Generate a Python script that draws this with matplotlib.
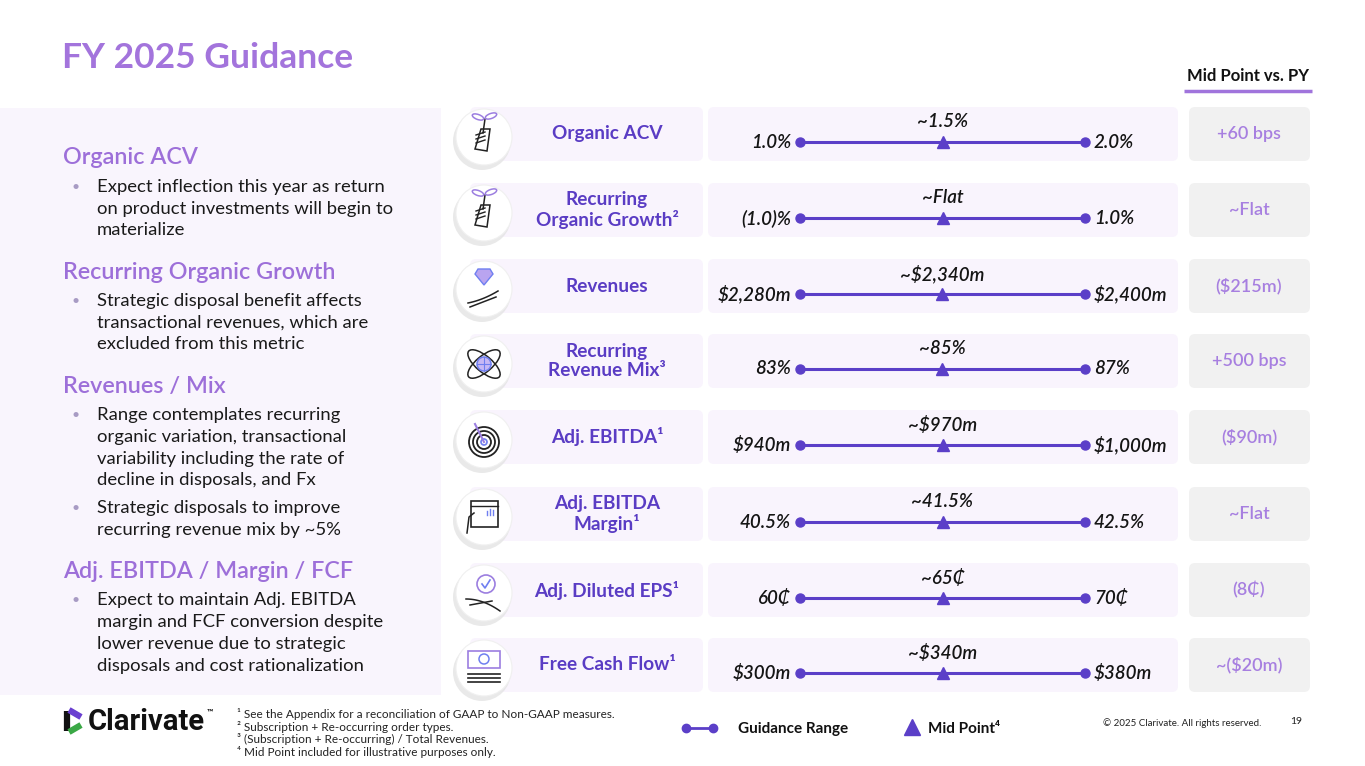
import numpy as np
import matplotlib.pyplot as plt
from matplotlib import patches

plt.rcParams['font.family'] = ['Lato', 'DejaVu Sans']

W, H = 1365, 766

# guidance data
metrics = ["Organic ACV", "Recurring\nOrganic Growth²", "Revenues", "Recurring\nRevenue Mix³",
           "Adj. EBITDA¹", "Adj. EBITDA\nMargin¹", "Adj. Diluted EPS¹", "Free Cash Flow¹"]
low_vals = [1.0, -1.0, 2280, 83, 940, 40.5, 60, 300]
high_vals = [2.0, 1.0, 2400, 87, 1000, 42.5, 70, 380]
mid_vals = [1.5, 0.0, 2340, 85, 970, 41.5, 65, 340]
low_labels = ["1.0%", "(1.0)%", "$2,280m", "83%", "$940m", "40.5%", "60₵", "$300m"]
high_labels = ["2.0%", "1.0%", "$2,400m", "87%", "$1,000m", "42.5%", "70₵", "$380m"]
mid_labels = ["~1.5%", "~Flat", "~$2,340m", "~85%", "~$970m", "~41.5%", "~65₵", "~$340m"]
vs_py = ["+60 bps", "~Flat", "($215m)", "+500 bps", "($90m)", "~Flat", "(8₵)", "~($20m)"]
icons = ["plant", "plant", "diamond", "atom", "target", "chart", "check", "cash"]

sections = [
    ("Organic ACV", [["Expect inflection this year as return",
                      "on product investments will begin to",
                      "materialize"]]),
    ("Recurring Organic Growth", [["Strategic disposal benefit affects",
                                   "transactional revenues, which are",
                                   "excluded from this metric"]]),
    ("Revenues / Mix", [["Range contemplates recurring",
                         "organic variation, transactional",
                         "variability including the rate of",
                         "decline in disposals, and Fx"],
                        ["Strategic disposals to improve",
                         "recurring revenue mix by ~5%"]]),
    ("Adj. EBITDA / Margin / FCF", [["Expect to maintain Adj. EBITDA",
                                     "margin and FCF conversion despite",
                                     "lower revenue due to strategic",
                                     "disposals and cost rationalization"]]),
]

footnotes = ["¹ See the Appendix for a reconciliation of GAAP to Non-GAAP measures.",
             "² Subscription + Re-occurring order types.",
             "³ (Subscription + Re-occurring) / Total Revenues.",
             "⁴ Mid Point included for illustrative purposes only."]

TITLE_C = "#a374dc"
HEAD_C = "#9d6fd9"
LABEL_C = "#5a3cc4"
LINE_C = "#5b3fc8"
PY_C = "#a77fe0"
BOX_C = "#f9f4fd"
GRAY_C = "#f1f1f1"
ICON_B = "#6f7ff0"


def frac(x0, y0, w, h):
    return [x0 / W, 1 - (y0 + h) / H, w / W, h / H]


def rbox(ax, x0, y0, w, h, color, r=6):
    ax.add_patch(patches.FancyBboxPatch((x0, y0), w, h,
                                        boxstyle=f"round,pad=0,rounding_size={r}",
                                        fc=color, ec="none", zorder=1))


def draw_icon(ax, kind, cx, cy):
    ax.add_patch(patches.Circle((cx - 2, cy + 4), 29, fc="#e4e4e4", ec="none", zorder=2, alpha=0.8))
    ax.add_patch(patches.Circle((cx, cy), 28, fc="white", ec="#f0f0f0", lw=0.8, zorder=3))
    k = dict(zorder=4)
    if kind == "plant":
        ax.plot([cx + 1, cx - 1], [cy - 18, cy - 4], color="#222", lw=1.1, **k)
        ax.add_patch(patches.Ellipse((cx - 6, cy - 20), 12, 5, angle=20, fc="none", ec="#9c7ee0", lw=1.1, **k))
        ax.add_patch(patches.Ellipse((cx + 7, cy - 21), 12, 5, angle=-20, fc="none", ec="#9c7ee0", lw=1.1, **k))
        ax.add_patch(patches.Polygon([[cx - 9, cy + 12], [cx - 3, cy - 8], [cx + 6, cy - 8],
                                      [cx + 3, cy + 14]], closed=True, fc="none", ec="#222", lw=1.1, **k))
        for d in (-2, 2, 6):
            ax.plot([cx - 8, cx + 1], [cy + d, cy + d - 3], color="#222", lw=1.0, **k)
    elif kind == "diamond":
        ax.add_patch(patches.Polygon([[cx - 6, cy - 20], [cx + 6, cy - 20], [cx + 9, cy - 15],
                                      [cx, cy - 4], [cx - 9, cy - 15]], closed=True,
                                     fc="#b9a4f0", ec=ICON_B, lw=1.0, **k))
        t = np.linspace(0, 1, 20)
        ax.plot(cx - 16 + 30 * t, cy + 14 - 12 * t + 6 * t * (1 - t), color="#222", lw=1.1, **k)
        ax.plot(cx - 14 + 26 * t, cy + 18 - 10 * t, color="#222", lw=1.1, **k)
    elif kind == "atom":
        ax.add_patch(patches.Ellipse((cx, cy), 40, 16, angle=40, fc="none", ec="#222", lw=1.1, **k))
        ax.add_patch(patches.Ellipse((cx, cy), 40, 16, angle=-40, fc="none", ec="#222", lw=1.1, **k))
        ax.add_patch(patches.Circle((cx, cy), 7, fc="#c7b8f5", ec=ICON_B, lw=1.1, **k))
        ax.plot([cx - 7, cx + 7], [cy, cy], color=ICON_B, lw=0.8, **k)
        ax.plot([cx, cx], [cy - 7, cy + 7], color=ICON_B, lw=0.8, **k)
    elif kind == "target":
        for r in (15, 11, 7):
            ax.add_patch(patches.Circle((cx, cy + 2), r, fc="none", ec="#222", lw=1.3, **k))
        ax.add_patch(patches.Circle((cx, cy + 2), 3, fc="none", ec=ICON_B, lw=1.2, **k))
        ax.plot([cx - 9, cx], [cy - 16, cy + 2], color="#9c7ee0", lw=1.5, **k)
    elif kind == "chart":
        ax.add_patch(patches.Rectangle((cx - 13, cy - 16), 27, 26, fc="none", ec="#222", lw=1.2, **k))
        ax.plot([cx - 13, cx + 14], [cy - 11, cy - 11], color="#222", lw=1.0, **k)
        for i, hb in enumerate((4, 6, 5)):
            ax.plot([cx + 3 + 3 * i, cx + 3 + 3 * i], [cy - 2, cy - 2 - hb], color=ICON_B, lw=1.0, **k)
        ax.plot([cx - 17, cx - 15, cx - 10], [cy + 16, cy, cy - 4], color="#222", lw=1.1, **k)
    elif kind == "check":
        ax.add_patch(patches.Circle((cx + 2, cy - 9), 9, fc="none", ec="#9c7ee0", lw=1.2, **k))
        ax.plot([cx - 2, cx + 1, cx + 6], [cy - 9, cy - 5, cy - 13], color=ICON_B, lw=1.2, **k)
        t = np.linspace(0, 1, 20)
        ax.plot(cx - 18 + 34 * t, cy + 6 + 12 * t ** 2, color="#222", lw=1.1, **k)
        ax.plot(cx - 14 + 22 * t, cy + 12 - 4 * t, color="#222", lw=1.1, **k)
    elif kind == "cash":
        ax.add_patch(patches.Rectangle((cx - 16, cy - 17), 32, 17, fc="none", ec="#9c7ee0", lw=1.2, **k))
        ax.add_patch(patches.Circle((cx, cy - 9), 5, fc="none", ec=ICON_B, lw=1.1, **k))
        for d in (6, 10, 14):
            ax.plot([cx - 16, cx + 16], [cy + d, cy + d], color="#222", lw=1.2, **k)


fig = plt.figure(figsize=(W / 100, H / 100), dpi=100)
ax = fig.add_axes([0, 0, 1, 1])
ax.set_xlim(0, W)
ax.set_ylim(H, 0)
ax.axis("off")

# title and column header
ax.text(62, 58, "FY 2025 Guidance", fontsize=25.5, fontweight="bold", color=TITLE_C, va="center")
ax.text(1248, 76, "Mid Point vs. PY", fontsize=12, fontweight="bold", color="#111", ha="center", va="center")
ax.plot([1184, 1312], [91, 91], color="#a074dc", lw=2.5, solid_capstyle="butt")

# left commentary panel
ax.add_patch(patches.Rectangle((0, 108), 441, 587, fc="#f9f5fd", ec="none", zorder=0))
y = 158
for head, bullets in sections:
    ax.text(63, y, head, fontsize=16.8, fontweight="semibold", color=HEAD_C, va="center")
    y += 29
    for bi, lines in enumerate(bullets):
        if bi > 0:
            y += 6
        ax.text(76, y, "•", fontsize=10, color="#a89bc4", va="center", ha="center")
        for line in lines:
            ax.text(97, y, line, fontsize=13.3, color="#1a1a1a", va="center")
            y += 21.7
    y += 20

# guidance rows
row_c = [134, 210, 286, 361, 437, 514, 590, 665]
BX0, BX1, PX0, PX1 = 708, 1178, 800, 1085
for i, cy in enumerate(row_c):
    y0 = cy - 27
    rbox(ax, 470, y0, 233, 54, BOX_C)
    rbox(ax, BX0, y0, BX1 - BX0, 54, BOX_C)
    rbox(ax, 1189, y0, 121, 54, GRAY_C)
    draw_icon(ax, icons[i], 484, cy + 3)
    ax.text(607, cy, metrics[i], fontsize=13.7, fontweight="bold", color=LABEL_C,
            ha="center", va="center", linespacing=1.15, zorder=5)
    ax.text(1249, cy, vs_py[i], fontsize=13, fontweight="semibold", color=PY_C,
            ha="center", va="center", zorder=5)

    lo, hi, md = low_vals[i], high_vals[i], mid_vals[i]
    s = (hi - lo) / (PX1 - PX0)
    rax = fig.add_axes(frac(BX0, y0, BX1 - BX0, 54))
    rax.set_xlim(lo - (PX0 - BX0) * s, hi + (BX1 - PX1) * s)
    rax.set_ylim(1, 0)
    rax.axis("off")
    yl = 35 / 54
    rax.plot([lo, hi], [yl, yl], color=LINE_C, lw=2.2, marker="o", ms=6.5)
    rax.plot([md], [yl], color=LINE_C, marker="^", ms=8.5, ls="none")
    tkw = dict(fontsize=13.5, fontstyle="italic", fontweight="semibold", color="#151515", va="center",
               textcoords="offset points")
    rax.annotate(low_labels[i], (lo, yl), xytext=(-6.5, 0), ha="right", **tkw)
    rax.annotate(high_labels[i], (hi, yl), xytext=(6.5, 0), ha="left", **tkw)
    rax.annotate(mid_labels[i], (md, yl), xytext=(0, 14.5), ha="center", **tkw)

# footer: logo, footnotes, legend
ax.plot([67, 67], [711, 731], color="#111", lw=4.5, solid_capstyle="butt")
ax.plot([69, 81], [710, 717], color="#6a3fd0", lw=4.5, solid_capstyle="butt")
ax.plot([69, 81], [732, 725], color="#3aa845", lw=4.5, solid_capstyle="butt")
ax.text(88, 722, "Clarivate", fontsize=21, fontweight="bold", color="#111", va="center",
        family=["Roboto", "DejaVu Sans"])
ax.text(207, 712, "™", fontsize=6, fontweight="bold", color="#111", va="center")
for j, fn in enumerate(footnotes):
    ax.text(237, 714 + 12.7 * j, fn, fontsize=8.5, color="#222", va="center")

ax.plot([686, 713], [728, 728], color=LINE_C, lw=2, marker="o", ms=6)
ax.text(738, 729, "Guidance Range", fontsize=11, fontweight="bold", color="#111", va="center")
ax.plot([912], [727], color=LINE_C, marker="^", ms=12, ls="none")
ax.text(928, 729, "Mid Point⁴", fontsize=11, fontweight="bold", color="#111", va="center")
ax.text(1103, 723, "© 2025 Clarivate. All rights reserved.", fontsize=7, color="#222", va="center")
ax.text(1290, 722, "19", fontsize=7.5, color="#222", va="center")

fig.savefig("out.png", dpi=100)
